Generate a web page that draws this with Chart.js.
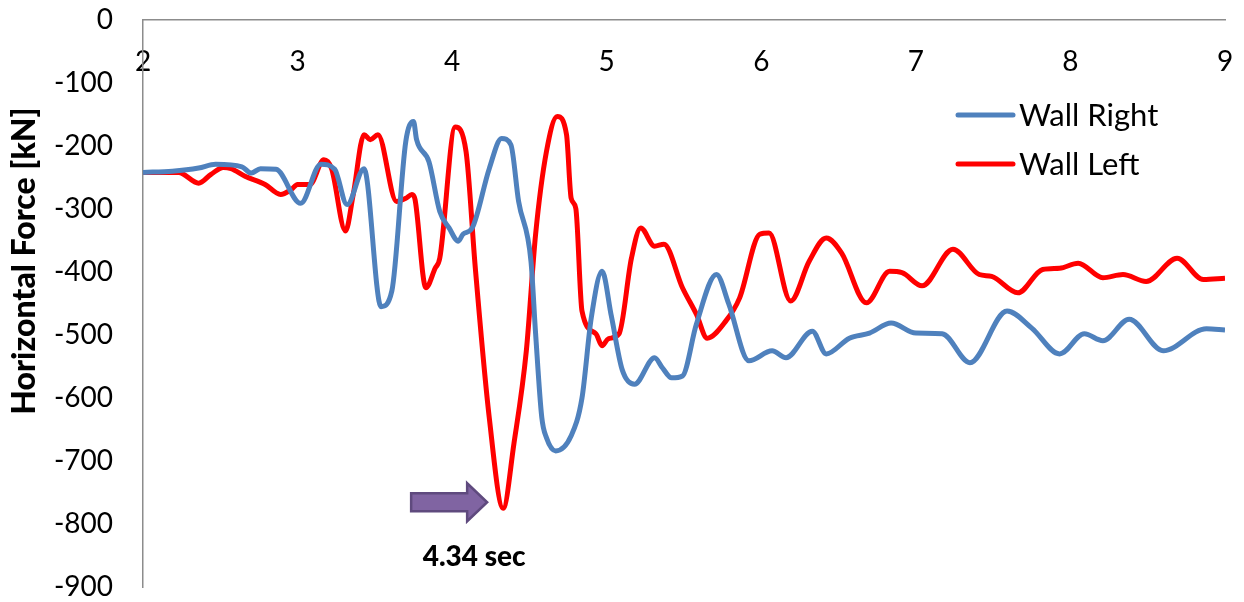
<!DOCTYPE html>
<html>
<head>
<meta charset="utf-8">
<script src="https://cdn.jsdelivr.net/npm/chart.js@4.4.1/dist/chart.umd.min.js"></script>
<style>
html,body{margin:0;padding:0;background:#fff;}
#wrap{width:1244px;height:602px;}
</style>
</head>
<body>
<div id="wrap"><canvas id="c" width="1244" height="602"></canvas></div>
<script>
// ---- data ----
const timeRight = [2.00,2.19,2.36,2.47,2.64,2.70,2.76,2.86,3.02,3.15,3.24,3.32,3.43,3.54,3.61,3.70,3.75,3.77,3.85,3.92,3.98,4.04,4.07,4.13,4.24,4.32,4.38,4.43,4.51,4.54,4.58,4.61,4.67,4.77,4.84,4.90,4.97,5.03,5.10,5.18,5.31,5.36,5.42,5.49,5.58,5.71,5.79,5.92,6.07,6.16,6.33,6.42,6.57,6.70,6.84,7.00,7.17,7.35,7.59,7.75,7.93,8.09,8.21,8.38,8.60,8.88,9.00];
const wallRight = [-242,-240,-235,-229,-233,-243,-236,-237,-291,-229,-237,-293,-236,-455,-430,-193,-161,-190,-225,-304,-330,-351,-340,-330,-236,-188,-198,-288,-383,-498,-631,-663,-684,-660,-600,-473,-399,-470,-555,-578,-536,-552,-568,-565,-483,-404,-451,-541,-525,-536,-494,-530,-505,-497,-481,-497,-498,-544,-462,-489,-530,-498,-509,-475,-525,-490,-492];

const timeLeft = [2.00,2.23,2.36,2.44,2.52,2.57,2.66,2.79,2.89,2.96,3.00,3.08,3.17,3.22,3.31,3.36,3.43,3.47,3.52,3.64,3.70,3.74,3.76,3.83,3.89,3.92,4.02,4.09,4.15,4.24,4.33,4.40,4.48,4.54,4.61,4.68,4.74,4.77,4.80,4.84,4.93,4.97,5.01,5.08,5.16,5.22,5.31,5.37,5.49,5.58,5.65,5.77,5.86,5.99,6.05,6.19,6.31,6.42,6.52,6.68,6.83,6.91,7.04,7.24,7.41,7.49,7.66,7.82,7.93,8.05,8.21,8.34,8.49,8.69,8.86,9.00];
const wallLeft = [-242,-242,-259,-245,-234,-236,-248,-261,-277,-269,-261,-261,-222,-236,-335,-277,-182,-190,-182,-288,-283,-277,-285,-425,-394,-378,-170,-209,-394,-631,-775,-672,-525,-340,-209,-153,-182,-283,-299,-462,-498,-517,-506,-498,-378,-330,-359,-356,-425,-467,-505,-478,-441,-340,-338,-446,-383,-346,-370,-449,-399,-401,-422,-364,-404,-407,-433,-396,-394,-386,-409,-404,-415,-378,-412,-410];

const seriesNames = ["Wall Right", "Wall Left"];
const seriesColors = ["#4F81BD", "#FF0000"];
const xTicks = [2,3,4,5,6,7,8,9];
const yTicks = [0,-100,-200,-300,-400,-500,-600,-700,-800,-900];
const yTitle = "Horizontal Force [kN]";
const peakLabel = "4.34 sec";
const peakTime = 4.33;   // time of the Wall Left minimum
const peakValue = -775;

const FONT = "Lato, 'Open Sans', sans-serif";

const toPts = (xs, ys) => xs.map((x, i) => ({x: x, y: ys[i]}));

const overlay = {
  id: 'overlay',
  afterDraw(chart) {
    const ctx = chart.ctx;
    const xs = chart.scales.x, ys = chart.scales.y;
    ctx.save();
    // y axis title
    ctx.translate(25, 261);
    ctx.rotate(-Math.PI / 2);
    ctx.font = "900 32px " + FONT;
    ctx.fillStyle = "#000";
    ctx.textAlign = "center";
    ctx.textBaseline = "middle";
    ctx.fillText(yTitle, 0, 0);
    ctx.restore();

    // legend
    ctx.save();
    const lx0 = 958, lx1 = 1013;
    const lys = [115, 164];
    seriesNames.forEach((name, i) => {
      ctx.strokeStyle = seriesColors[i];
      ctx.lineWidth = 5;
      ctx.lineCap = "round";
      ctx.beginPath();
      ctx.moveTo(lx0, lys[i]);
      ctx.lineTo(lx1, lys[i]);
      ctx.stroke();
      ctx.fillStyle = "#000";
      ctx.font = "31px " + FONT;
      ctx.textAlign = "left";
      ctx.textBaseline = "middle";
      ctx.fillText(name, 1019, lys[i] + 1);
    });
    ctx.restore();

    // arrow annotation pointing at the peak
    const tipX = xs.getPixelForValue(peakTime) - 16;
    const midY = ys.getPixelForValue(peakValue) - 6;
    ctx.save();
    ctx.fillStyle = "#8064A2";
    ctx.strokeStyle = "#5F4A7E";
    ctx.lineWidth = 2.5;
    ctx.lineJoin = "miter";
    ctx.beginPath();
    ctx.moveTo(tipX - 76, midY - 9);
    ctx.lineTo(tipX - 20, midY - 9);
    ctx.lineTo(tipX - 20, midY - 19);
    ctx.lineTo(tipX, midY);
    ctx.lineTo(tipX - 20, midY + 19);
    ctx.lineTo(tipX - 20, midY + 9);
    ctx.lineTo(tipX - 76, midY + 9);
    ctx.closePath();
    ctx.fill();
    ctx.stroke();
    // label
    ctx.fillStyle = "#000";
    ctx.font = "900 28px " + FONT;
    ctx.textAlign = "center";
    ctx.textBaseline = "middle";
    ctx.fillText(peakLabel, tipX - 13, midY + 55);
    ctx.restore();
  }
};

new Chart(document.getElementById('c'), {
  type: 'line',
  data: {
    datasets: [
      {label: seriesNames[0], data: toPts(timeRight, wallRight), borderColor: seriesColors[0], backgroundColor: seriesColors[0], borderWidth: 5, pointRadius: 0, cubicInterpolationMode: 'monotone', fill: false},
      {label: seriesNames[1], data: toPts(timeLeft, wallLeft), borderColor: seriesColors[1], backgroundColor: seriesColors[1], borderWidth: 5, pointRadius: 0, cubicInterpolationMode: 'monotone', fill: false}
    ]
  },
  options: {
    responsive: false,
    animation: false,
    layout: {padding: {left: 0, top: 20, right: 19, bottom: 15}},
    plugins: {legend: {display: false}, tooltip: {enabled: false}, title: {display: false}},
    scales: {
      x: {
        type: 'linear',
        position: {y: 0},
        min: 2, max: 9,
        afterBuildTicks: (s) => { s.ticks = xTicks.map(v => ({value: v})); },
        afterFit: (s) => { s.height = 0; s.paddingLeft = 0; s.paddingRight = 0; s.paddingTop = 0; s.paddingBottom = 0; },
        grid: {display: false, drawTicks: false},
        border: {display: true, color: '#8C8C8C', width: 1.5},
        ticks: {color: '#000', padding: 25, font: {family: FONT, size: 28}, maxRotation: 0}
      },
      y: {
        type: 'linear',
        min: -900, max: 0,
        afterBuildTicks: (s) => { s.ticks = yTicks.map(v => ({value: v})); },
        afterFit: (s) => { s.width = 143; s.paddingTop = 0; s.paddingBottom = 0; s.paddingLeft = 0; s.paddingRight = 0; },
        grid: {display: false, drawTicks: false},
        border: {display: true, color: '#8C8C8C', width: 1.5},
        ticks: {color: '#000', padding: 30, font: {family: FONT, size: 28}}
      }
    }
  },
  plugins: [overlay]
});
</script>
</body>
</html>
